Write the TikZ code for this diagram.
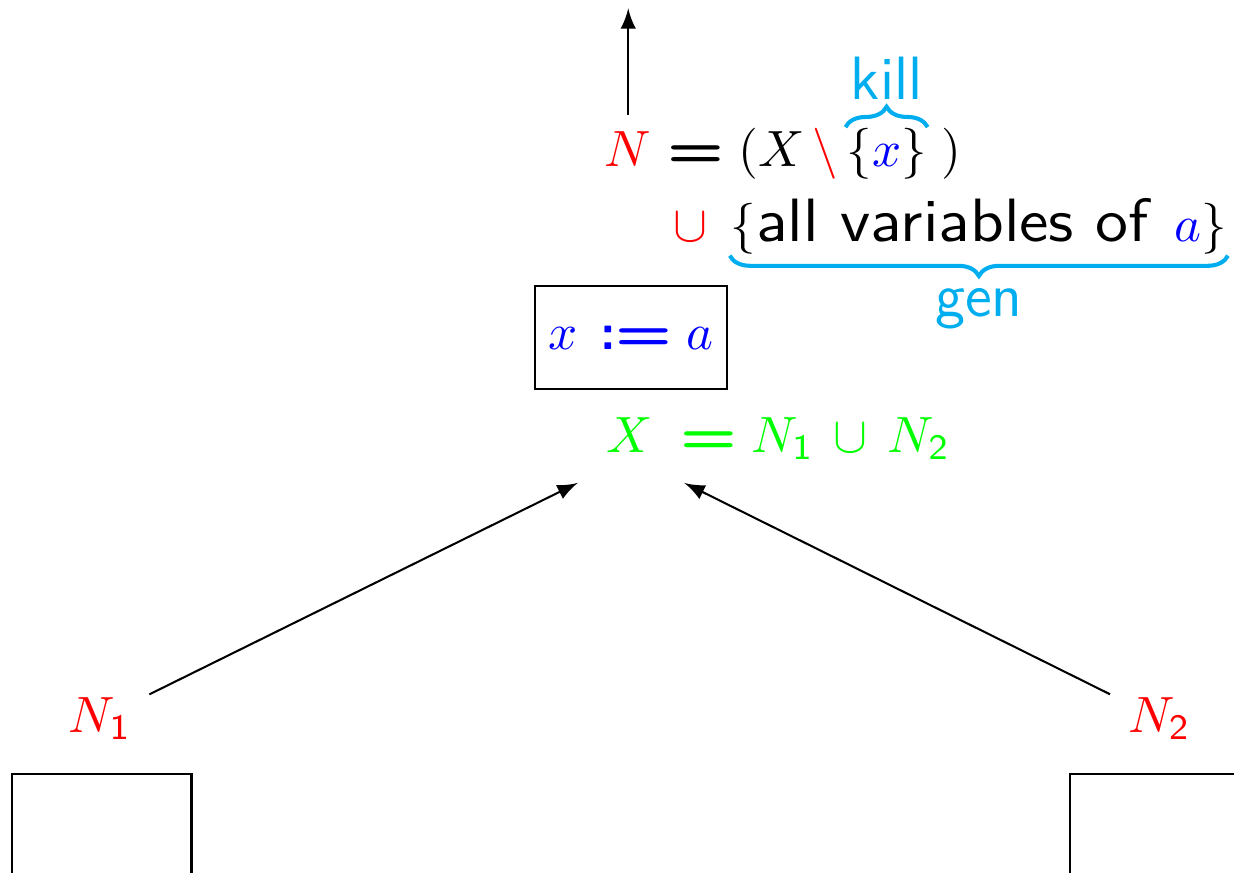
\documentclass[tikz,border=0pt]{standalone}
\usepackage{graphicx}
\usetikzlibrary{positioning,decorations.pathreplacing}

\definecolor{bracecol}{RGB}{0,174,239}
\newcommand{\sansbig}[1]{\scalebox{1.1}[1]{\sffamily\fontsize{12}{14}\selectfont #1}}
\newcommand{\wideeq}{\scalebox{1.3}[1]{\textsf{\bfseries =}}}
\newcommand{\eqop}{\mathrel{\wideeq}}
\newcommand{\assignop}{\mathrel{\textsf{\bfseries :}\wideeq}}

\tikzset{
  >=latex,
  piece/.style={inner sep=0pt, anchor=base west},
  bracepath/.style={bracecol, line width=0.8pt, decorate, decoration={brace, amplitude=4pt}},
  bracelabel/.style={bracecol, inner sep=0pt, font=\sffamily\fontsize{12}{14}\selectfont},
  stmt/.style={draw, inner xsep=2pt, minimum width=1.32cm, minimum height=0.71cm},
  block/.style={draw, minimum width=1.24cm, minimum height=1.24cm},
}

\begin{document}
\begin{tikzpicture}
  \useasboundingbox (0,0) rectangle (8.505,6.017);
  \clip (0,0) rectangle (8.505,6.017);

  % out-state N of the assignment
  \node[red, inner xsep=0pt, inner ysep=3pt, anchor=base] (outN) at (4.33,4.87) {$N$};
  \node[piece] (eqL) at (outN.base east) {${}\eqop(X$};
  \node[piece, red, inner xsep=1.2pt] (minus) at (eqL.base east) {$\setminus$};
  \node[piece] (killset) at (minus.base east) {$\{\textcolor{blue}{x}\}$};
  \node[piece, inner xsep=2.6pt] (close) at (killset.base east) {$)$};
  \node[red, anchor=base, inner sep=0pt] (cupsym) at (4.76,4.35) {$\cup$};
  \node[piece] (genset) at (5.03,4.35) {$\{$\sansbig{all variables of} \,$\textcolor{blue}{a}\}$};

  \draw[bracepath] (killset.north west) -- (killset.north east)
    node[midway, above=5pt, bracelabel] {kill};
  \draw[bracepath] (genset.south east) -- (genset.south west)
    node[midway, below=6pt, bracelabel] {gen};

  \coordinate (top) at (4.33,5.96);
  \draw[->] (outN) -- (top);

  % the statement and its in-state X
  \node[stmt] (assign) at (4.35,3.69) {$\textcolor{blue}{x\,\assignop a}$};
  \node[green, anchor=base west, inner sep=0pt] (inX) at (4.17,2.90)
    {$X\;\eqop N_{\mathsf{1}}\,\cup\,N_{\mathsf{2}}$};
  \coordinate (join) at (4.35,2.87);

  % predecessors
  \node[red, anchor=base] (n1) at (0.69,0.97) {$N_{\mathsf{1}}$};
  \node[red, anchor=base] (n2) at (7.99,0.97) {$N_{\mathsf{2}}$};
  \draw[->, shorten >=0.41cm] (n1) -- (join);
  \draw[->, shorten >=0.41cm] (n2) -- (join);

  \node[block, anchor=north] (pred1) at (0.70,0.69) {};
  \node[block, anchor=north west] (pred2) at (7.37,0.69) {};
\end{tikzpicture}
\end{document}
